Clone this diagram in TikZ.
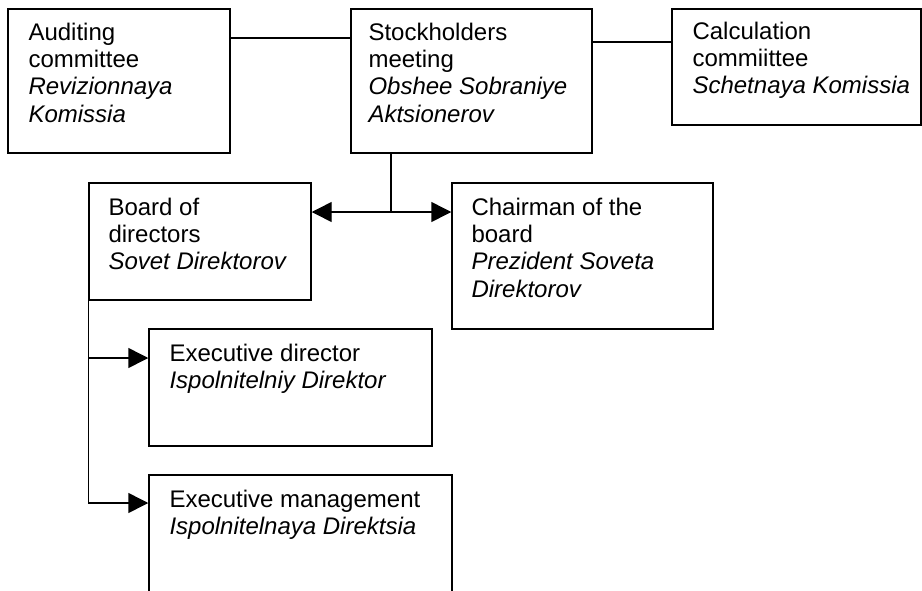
\documentclass[tikz,border=0pt]{standalone}
\usepackage{fontspec}
\setmainfont{Liberation Sans}
\usetikzlibrary{arrows.meta,fit}

\tikzset{
  orgbox/.style={draw, line width=1.1pt, inner sep=0pt},
  boxtext/.style={anchor=base west, inner sep=0pt,
    font=\fontsize{18}{20.5}\selectfont},
  link/.style={line width=1.1pt},
  arr/.style={link, -{Triangle[length=15pt,width=15pt]}}
}
\newcommand\lines[1]{\parbox[t]{300pt}{\raggedright #1}}

\begin{document}
\begin{tikzpicture}[x=0.75pt,y=-0.75pt]
  \useasboundingbox (0,0) rectangle (922,590);

  % boxes
  \node[orgbox, fit={(8,9) (230,153)}] (aud) {};
  \node[orgbox, fit={(351,9) (592,153)}] (stock) {};
  \node[orgbox, fit={(672,9) (921,125)}] (calc) {};
  \node[orgbox, fit={(89,183) (311,300)}] (board) {};
  \node[orgbox, fit={(452,183) (713,329)}] (chair) {};
  \node[orgbox, fit={(149,329) (432,446)}] (edir) {};
  \node[orgbox, fit={(149,475) (452,610)}] (emgmt) {};

  % texts
  \node[boxtext] (aud-t) at ([shift={(21,32)}]aud.north west)
    {\lines{Auditing\\committee\\\textit{Revizionnaya}\\\textit{Komissia}}};
  \node[boxtext] (stock-t) at ([shift={(18,32)}]stock.north west)
    {\lines{Stockholders\\meeting\\\textit{Obshee Sobraniye}\\\textit{Aktsionerov}}};
  \node[boxtext] (calc-t) at ([shift={(21,31)}]calc.north west)
    {\lines{Calculation\\commiittee\\\textit{Schetnaya Komissia}}};
  \node[boxtext] (board-t) at ([shift={(20,33)}]board.north west)
    {\lines{Board of\\directors\\\textit{Sovet Direktorov}}};
  \node[boxtext] (chair-t) at ([shift={(20,33)}]chair.north west)
    {\lines{Chairman of the\\board\\\textit{Prezident Soveta}\\\textit{Direktorov}}};
  \node[boxtext] (edir-t) at ([shift={(21,33)}]edir.north west)
    {\lines{Executive director\\\textit{Ispolnitelniy Direktor}}};
  \node[boxtext] (emgmt-t) at ([shift={(21,33)}]emgmt.north west)
    {\lines{Executive management\\\textit{Ispolnitelnaya Direktsia}}};

  % top row links
  \draw[link] (aud.east |- 0,38) -- (stock.west |- 0,38);
  \draw[link] (stock.east |- 0,42) -- (calc.west |- 0,42);

  % stockholders to board and chairman
  \coordinate (split) at (391,212);
  \draw[link] (stock.south -| split) -- (split);
  \draw[arr] (split) -- (board.east |- split);
  \draw[arr] (split) -- (chair.west |- split);

  % board to executive bodies
  \coordinate (e1) at (board.south west |- 0,358);
  \coordinate (e2) at (board.south west |- 0,503);
  \draw[link] (board.south west) -- (e2);
  \draw[arr] (e1) -- (edir.west |- e1);
  \draw[arr] (e2) -- (emgmt.west |- e2);
\end{tikzpicture}
\end{document}
